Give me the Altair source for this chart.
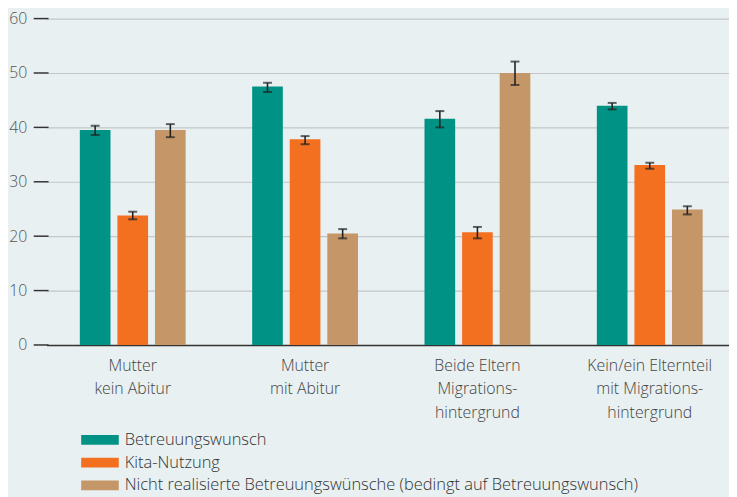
import altair as alt
import pandas as pd

groups = [
    "Mutter\nkein Abitur",
    "Mutter\nmit Abitur",
    "Beide Eltern\nMigrations-\nhintergrund",
    "Kein/ein Elternteil\nmit Migrations-\nhintergrund",
]
series = [
    "Betreuungswunsch",
    "Kita-Nutzung",
    "Nicht realisierte Betreuungswünsche (bedingt auf Betreuungswunsch)",
]
wunsch = [39.5, 47.5, 41.6, 44.0]
wunsch_lo = [38.6, 46.5, 40.0, 43.3]
wunsch_hi = [40.3, 48.2, 43.0, 44.5]
kita = [23.8, 37.8, 20.7, 33.1]
kita_lo = [23.1, 36.9, 19.6, 32.4]
kita_hi = [24.5, 38.4, 21.7, 33.5]
nicht = [39.5, 20.5, 50.0, 24.9]
nicht_lo = [38.2, 19.6, 47.8, 24.0]
nicht_hi = [40.6, 21.3, 52.1, 25.5]
y_ticks = [0, 10, 20, 30, 40, 50, 60]
colors = ["#009385", "#f37021", "#c59667"]

rows = []
for s, vals, los, his in zip(series, [wunsch, kita, nicht], [wunsch_lo, kita_lo, nicht_lo], [wunsch_hi, kita_hi, nicht_hi]):
    for g, v, lo, hi in zip(groups, vals, los, his):
        rows.append({"group": g, "series": s, "value": v, "lo": lo, "hi": hi})
df = pd.DataFrame(rows)
ticks_df = pd.DataFrame({"v": y_ticks})
legend_df = pd.DataFrame({"series": series})

TXT = "Open Sans"
NUM = "Open Sans"

x_enc = alt.X(
    "group:N",
    sort=groups,
    scale=alt.Scale(range=[13, 710], paddingInner=0, paddingOuter=0),
    axis=alt.Axis(
        title=None,
        labelAngle=0,
        ticks=False,
        domain=True,
        domainColor="#333333",
        domainWidth=1.5,
        grid=False,
        labelExpr="split(datum.label, '\\n')",
        labelFont=TXT,
        labelFontSize=16,
        labelFontWeight=300,
        labelLineHeight=23.5,
        labelColor="#444444",
        labelPadding=13,
    ),
)
xoff = alt.XOffset("series:N", sort=series, scale=alt.Scale(paddingInner=0.184, paddingOuter=0.885))
y_scale = alt.Scale(domain=[0, 60])
color_enc = alt.Color(
    "series:N",
    sort=series,
    scale=alt.Scale(domain=series, range=colors),
    legend=None,
)

bars = alt.Chart(df).mark_bar().encode(
    x=x_enc,
    xOffset=xoff,
    y=alt.Y(
        "value:Q",
        scale=y_scale,
        axis=alt.Axis(
            title=None,
            values=y_ticks,
            ticks=False,
            domain=False,
            grid=True,
            gridColor="#c4c6c8",
            gridWidth=1.2,
            labelFont=NUM,
            labelFontSize=16,
            labelFontWeight=300,
            labelColor="#555555",
            labelPadding=7,
        ),
    ),
    color=color_enc,
)

err = alt.Chart(df).mark_rule(color="#222222", strokeWidth=1.6).encode(
    x=alt.X("group:N", sort=groups),
    xOffset=alt.XOffset("series:N", sort=series),
    y="lo:Q",
    y2="hi:Q",
)
cap_lo = alt.Chart(df).mark_tick(color="#222222", orient="horizontal", size=9, thickness=2).encode(
    x=alt.X("group:N", sort=groups),
    xOffset=alt.XOffset("series:N", sort=series),
    y="lo:Q",
)
cap_hi = alt.Chart(df).mark_tick(color="#222222", orient="horizontal", size=9, thickness=2).encode(
    x=alt.X("group:N", sort=groups),
    xOffset=alt.XOffset("series:N", sort=series),
    y="hi:Q",
)
yticks = alt.Chart(ticks_df).mark_rule(color="#333333", strokeWidth=1.5).encode(
    y=alt.Y("v:Q"),
    x=alt.value(0),
    x2=alt.value(15),
)

main = alt.layer(bars, yticks, err, cap_lo, cap_hi)

leg_y = alt.Y(
    "series:N",
    sort=series,
    scale=alt.Scale(range=[414.5, 483.5], paddingInner=0, paddingOuter=0),
    axis=None,
)
leg_swatch = alt.Chart(legend_df).mark_bar(size=10, orient="horizontal").encode(
    y=leg_y,
    x=alt.value(48),
    x2=alt.value(86),
    color=color_enc,
)
leg_text = alt.Chart(legend_df).mark_text(
    align="left", baseline="middle", font=TXT, fontSize=16.6, fontWeight=300, color="#333333"
).encode(
    y=leg_y,
    x=alt.value(92),
    text="series:N",
)
legend = alt.layer(leg_swatch, leg_text)

chart = alt.layer(main, legend).resolve_scale(y="independent").properties(
    width=703,
    height=330,
    autosize=alt.AutoSizeParams(type="none"),
    padding={"top": 8, "left": 26, "right": 0, "bottom": 151},
).configure(background="#e8f0f1").configure_view(stroke=None)

chart.save("out.html", embed_options={"renderer": "svg", "actions": False})
